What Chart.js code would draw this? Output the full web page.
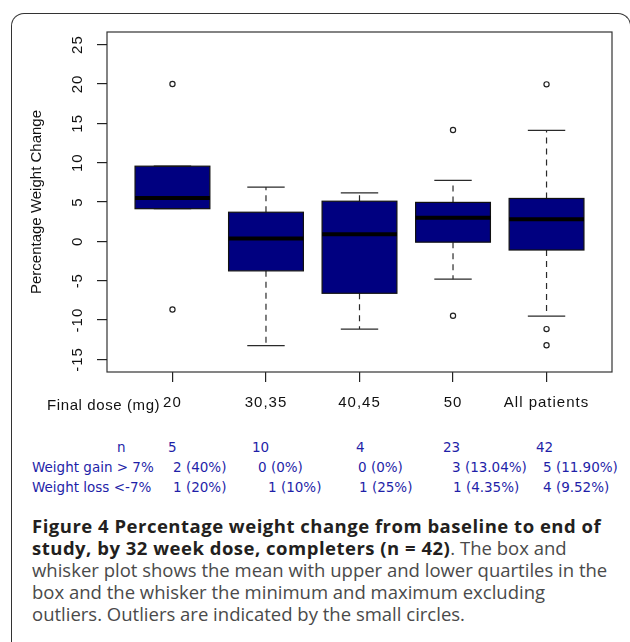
<!DOCTYPE html>
<html lang="en">
<head>
<meta charset="UTF-8">
<title>Percentage weight change by final dose</title>
<script src="https://cdn.jsdelivr.net/npm/chart.js"></script>
<style>
  body { margin: 0; background: #fff; }
  .page { position: relative; width: 630px; height: 642px; overflow: hidden; font-family: "Liberation Sans", Arial, sans-serif; }
  .frame { position: absolute; left: 11px; top: 13px; width: 620px; height: 700px; border: 1.5px solid #333; border-bottom: none; border-radius: 13px 13px 0 0; box-sizing: border-box; }
  canvas { position: absolute; left: 0; top: 0; }
  .dose-label { position: absolute; left: 47px; top: 396px; font-size: 15px; letter-spacing: 0.6px; line-height: 18px; color: #111; }
  .cell { position: absolute; font-family: "DejaVu Sans", sans-serif; font-size: 13.5px; line-height: 16px; color: #1f1fa8; white-space: nowrap; }
  .caption { position: absolute; left: 32px; top: 515px; font-family: "Open Sans", sans-serif; font-size: 18.5px; line-height: 22px; color: #4a4a4a; white-space: nowrap; }
  .caption b { color: #231f20; letter-spacing: 0.5px; }
</style>
</head>
<body>
<div class="page">
  <div class="frame"></div>
  <canvas id="chart" width="630" height="420"></canvas>
  <div class="dose-label">Final dose (mg)</div>
  <div id="table"></div>
  <div class="caption"><b>Figure 4 Percentage weight change from baseline to end of<br>study, by 32 week dose, completers (n = 42)</b>. The box and<br>whisker plot shows the mean with upper and lower quartiles in the<br>box and the whisker the minimum and maximum excluding<br>outliers. Outliers are indicated by the small circles.</div>
</div>

<script>
// data
const categories = ["20", "30,35", "40,45", "50", "All patients"];
const lowerQuartile = [4.15, -3.75, -6.6, -0.1, -1.1];
const medianValue = [5.5, 0.35, 0.9, 3.0, 2.8];
const upperQuartile = [9.55, 3.7, 5.1, 4.95, 5.45];
const whiskerLow = [4.15, -13.25, -11.15, -4.8, -9.5];
const whiskerHigh = [9.55, 6.9, 6.15, 7.75, 14.1];
const outlierGroup = [1, 1, 4, 4, 5, 5, 5];
const outlierValue = [20, -8.65, 14.15, -9.45, 19.95, -11.15, -13.2];
const yTicks = [-15, -10, -5, 0, 5, 10, 15, 20, 25];

const nCounts = ["5", "10", "4", "23", "42"];
const gainCounts = ["2 (40%)", "0 (0%)", "0 (0%)", "3 (13.04%)", "5 (11.90%)"];
const lossCounts = ["1 (20%)", "1 (10%)", "1 (25%)", "1 (4.35%)", "4 (9.52%)"];

// table under the axis (layout only)
const table = document.getElementById("table");
function addCell(text, left, top) {
  const el = document.createElement("div");
  el.className = "cell";
  el.style.left = left + "px";
  el.style.top = top + "px";
  el.textContent = text;
  table.appendChild(el);
}
addCell("n", 117, 439);
addCell("Weight gain > 7%", 32, 459);
addCell("Weight loss <-7%", 32, 479);
const nX = [168, 252, 356, 443, 536];
const gainX = [173, 258, 358, 452, 543];
const lossX = [173, 268, 359, 453, 543];
nCounts.forEach((t, i) => addCell(t, nX[i], 439));
gainCounts.forEach((t, i) => addCell(t, gainX[i], 459));
lossCounts.forEach((t, i) => addCell(t, lossX[i], 479));

// medians, whiskers, plot frame and rotated y labels
const boxPlugin = {
  id: "boxExtras",
  beforeDraw(chart) {
    // wide spacing for the x tick labels only
    chart.ctx.letterSpacing = "1px";
  },
  afterDatasetsDraw(chart) {
    const ctx = chart.ctx;
    const xs = chart.scales.x, ys = chart.scales.y;
    const bars = chart.getDatasetMeta(0).data;
    ctx.save();
    categories.forEach((c, i) => {
      const bar = bars[i];
      const cx = xs.getPixelForValue(i + 1);
      const half = bar.width / 2;
      const cap = bar.width / 4;
      ctx.strokeStyle = "#2a2a2a";
      ctx.lineWidth = 1.2;
      ctx.setLineDash([6, 5]);
      ctx.beginPath();
      ctx.moveTo(cx, ys.getPixelForValue(upperQuartile[i]));
      ctx.lineTo(cx, ys.getPixelForValue(whiskerHigh[i]));
      ctx.moveTo(cx, ys.getPixelForValue(lowerQuartile[i]));
      ctx.lineTo(cx, ys.getPixelForValue(whiskerLow[i]));
      ctx.stroke();
      ctx.setLineDash([]);
      ctx.beginPath();
      [whiskerHigh[i], whiskerLow[i]].forEach(v => {
        const y = ys.getPixelForValue(v);
        ctx.moveTo(cx - cap, y);
        ctx.lineTo(cx + cap, y);
      });
      ctx.stroke();
      ctx.strokeStyle = "#111";
      ctx.lineWidth = 1.2;
      const yt = ys.getPixelForValue(upperQuartile[i]);
      const yb = ys.getPixelForValue(lowerQuartile[i]);
      ctx.strokeRect(bar.x - half, yt, bar.width, yb - yt);
      ctx.lineWidth = 4;
      ctx.strokeStyle = "#000";
      const ym = ys.getPixelForValue(medianValue[i]);
      ctx.beginPath();
      ctx.moveTo(bar.x - half, ym);
      ctx.lineTo(bar.x + half, ym);
      ctx.stroke();
    });
    const a = chart.chartArea;
    ctx.strokeStyle = "#333";
    ctx.lineWidth = 1.2;
    ctx.strokeRect(a.left, a.top, a.right - a.left, a.bottom - a.top);
    ctx.restore();
    // y grid layer (z: 1, holds the title) draws after this, without extra spacing
    ctx.letterSpacing = "0px";
  },
  afterDraw(chart) {
    const ctx = chart.ctx;
    const ys = chart.scales.y;
    ctx.save();
    ctx.letterSpacing = "1px";
    ctx.fillStyle = "#111";
    ctx.font = '15px "Liberation Sans", Arial, sans-serif';
    ctx.textAlign = "center";
    ctx.textBaseline = "middle";
    ys.ticks.forEach(t => {
      ctx.save();
      ctx.translate(78, ys.getPixelForValue(t.value));
      ctx.rotate(-Math.PI / 2);
      ctx.fillText(String(t.value), 0, 0);
      ctx.restore();
    });
    ctx.restore();
  }
};

Chart.defaults.font.family = '"Liberation Sans", Arial, sans-serif';

new Chart(document.getElementById("chart"), {
  type: "bar",
  data: {
    datasets: [{
      type: "bar",
      data: categories.map((c, i) => ({ x: i + 1, y: [lowerQuartile[i], upperQuartile[i]] })),
      backgroundColor: "#000080",
      borderColor: "#111",
      borderWidth: 0,
      borderSkipped: false,
      categoryPercentage: 0.8,
      barPercentage: 1
    }, {
      type: "scatter",
      data: outlierGroup.map((g, i) => ({ x: g, y: outlierValue[i] })),
      pointRadius: 2.6,
      pointBorderWidth: 1.2,
      pointBorderColor: "#222",
      pointBackgroundColor: "#fff"
    }]
  },
  options: {
    responsive: false,
    animation: false,
    devicePixelRatio: 1,
    layout: { padding: { left: 0, top: 32, right: 18, bottom: 8 } },
    plugins: { legend: { display: false }, tooltip: { enabled: false } },
    scales: {
      x: {
        type: "linear",
        min: 0.3,
        max: 5.7,
        offset: false,
        afterBuildTicks: s => { s.ticks = categories.map((c, i) => ({ value: i + 1 })); },
        afterFit: s => { s.height = 40; },
        ticks: { callback: (v, i) => categories[i], font: { size: 15 }, color: "#111", padding: 12, maxRotation: 0, autoSkip: false },
        grid: { offset: false, drawOnChartArea: false, tickLength: 10, color: "#222", lineWidth: 1.2 },
        border: { display: false }
      },
      y: {
        min: -16.6,
        max: 26.6,
        afterBuildTicks: s => { s.ticks = yTicks.map(v => ({ value: v })); },
        afterFit: s => { s.width = 107; },
        ticks: { display: false },
        grid: { z: 1, drawOnChartArea: false, tickLength: 10, color: "#222", lineWidth: 1.2 },
        border: { display: false },
        title: { display: true, text: "Percentage Weight Change", font: { size: 15 }, color: "#111", padding: { top: 28, bottom: 0 } }
      }
    }
  },
  plugins: [boxPlugin]
});
</script>
</body>
</html>
